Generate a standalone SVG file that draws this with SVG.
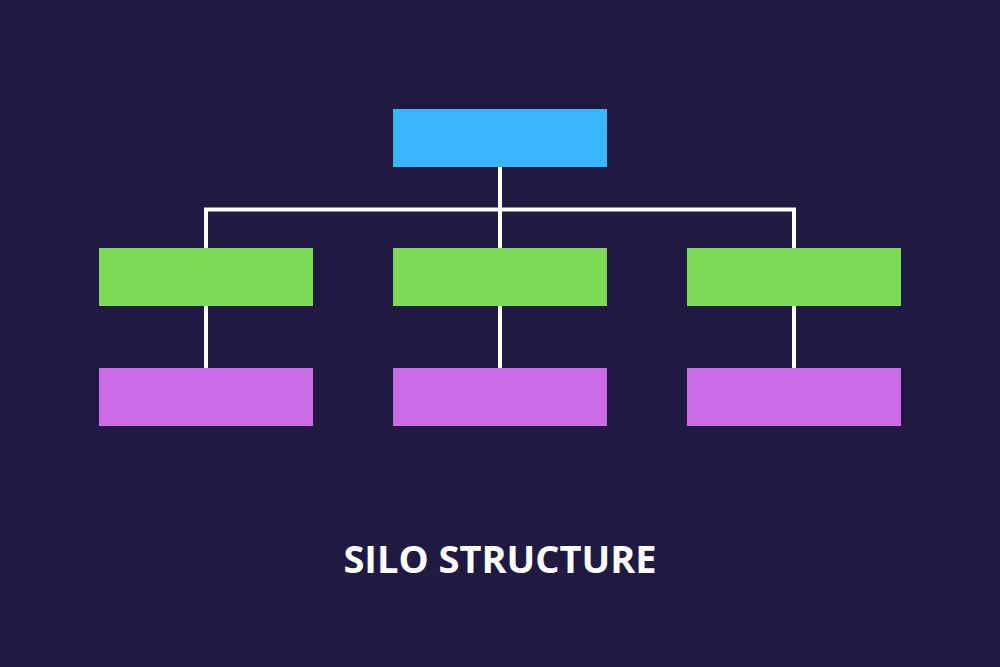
<svg xmlns="http://www.w3.org/2000/svg" width="1000" height="667" viewBox="0 0 1000 667">
<style>
.top{fill:#38b6ff}
.mid{fill:#7ed957}
.bot{fill:#cb6ce6}
.conn{stroke:#ffffff;stroke-width:4;fill:none}
.title{font-family:"Open Sans","Liberation Sans",sans-serif;font-weight:700;font-size:38px;fill:#ffffff}
</style>
<rect width="1000" height="667" fill="#201941"/>
<g id="connectors">
<path class="conn" d="M500 167 V248"/>
<path class="conn" d="M206 248 V209.5 H794 V248"/>
<path class="conn" d="M206 306 V368"/>
<path class="conn" d="M500 306 V368"/>
<path class="conn" d="M794 306 V368"/>
</g>
<g id="root"><rect class="top" x="393" y="109" width="214" height="58"/></g>
<g id="mid-left"><rect class="mid" x="99" y="248" width="214" height="58"/></g>
<g id="mid-center"><rect class="mid" x="393" y="248" width="214" height="58"/></g>
<g id="mid-right"><rect class="mid" x="687" y="248" width="214" height="58"/></g>
<g id="bot-left"><rect class="bot" x="99" y="368" width="214" height="58"/></g>
<g id="bot-center"><rect class="bot" x="393" y="368" width="214" height="58"/></g>
<g id="bot-right"><rect class="bot" x="687" y="368" width="214" height="58"/></g>
<g id="title"><text class="title" x="500" y="573" text-anchor="middle">SILO STRUCTURE</text></g>
</svg>
